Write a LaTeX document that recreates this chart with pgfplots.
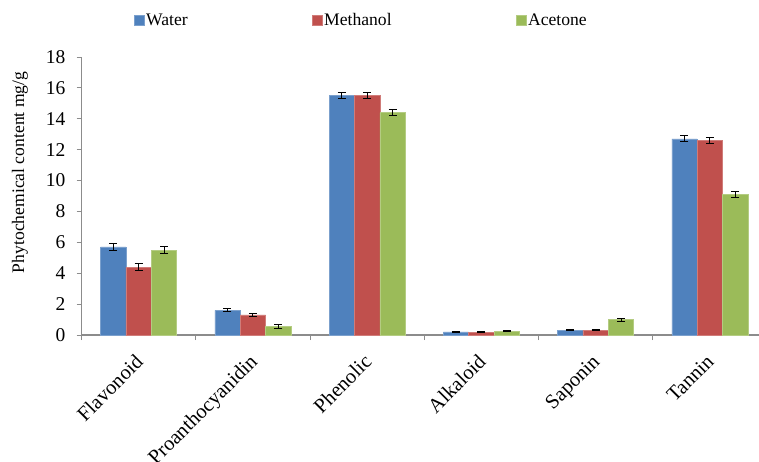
\documentclass[border=0pt]{standalone}
\usepackage{fontspec}
\setmainfont{Liberation Serif}
\usepackage{pgfplots}
\pgfplotsset{compat=1.18}
\definecolor{cW}{HTML}{4F81BD}
\definecolor{cM}{HTML}{C0504D}
\definecolor{cA}{HTML}{9BBB59}
\newcommand\fs{\fontsize{17.6}{21}\selectfont}
\newcommand\fy{\fontsize{19.5}{23}\selectfont}
\newcommand\fx{\fontsize{20.5}{24}\selectfont}
\begin{document}
\begin{tikzpicture}[x=1pt,y=1pt,font=\fs]
\begin{axis}[
  at={(81.5pt,126pt)}, anchor=south west,
  scale only axis, width=685.5pt, height=278pt,
  ybar=0pt, bar width=25.4pt,
  xmin=-0.5, xmax=5.5, ymin=0, ymax=18,
  ytick={0,2,...,18},
  xtick={0,...,5},
  xticklabels={Flavonoid,Proanthocyanidin,Phenolic,Alkaloid,Saponin,Tannin},
  minor xtick={-0.5,0.5,...,5.5},
  axis lines*=left,
  axis line style={draw=gray!90, line width=1.2pt},
  tick align=outside,
  major x tick style={draw=none},
  minor x tick style={draw=gray!90, line width=0.8pt},
  minor tick length=5pt,
  major tick length=5pt,
  y tick style={draw=gray!90, line width=0.8pt},
  /pgf/number format/assume math mode=true,
  yticklabel style={font=\fy, xshift=-7.5pt},
  xticklabel style={font=\fx, xshift=-4.5pt, yshift=-13pt, rotate=45, anchor=north east, inner sep=0pt},
  ylabel={Phytochemical content mg/g},
  every axis y label/.style={at={(rel axis cs:0,0.585)}, xshift=-61.5pt, rotate=90, anchor=center, font=\fs},
  legend columns=3,
  legend style={draw=none, fill=none, at={(rel axis cs:0.408,1.133)}, anchor=center, font=\fs,
    /tikz/every even column/.append style={column sep=122pt},
    nodes={inner sep=2pt}, cells={anchor=west}},
  legend image code/.code={\fill[#1] (0pt,-5pt) rectangle (10pt,5pt);},
  error bars/y dir=both, error bars/y explicit,
  error bars/error bar style={black, line width=1pt},
  error bars/error mark options={rotate=90, mark size=4pt, black, line width=1pt},
]
\addplot[fill=cW, draw=cW!75!white, line width=0.5pt] coordinates {
  (0,5.7) +- (0,0.2)
  (1,1.6) +- (0,0.1)
  (2,15.5) +- (0,0.2)
  (3,0.2) +- (0,0.04)
  (4,0.3) +- (0,0.04)
  (5,12.7) +- (0,0.2)
};
\addplot[fill=cM, draw=cM!75!white, line width=0.5pt] coordinates {
  (0,4.4) +- (0,0.2)
  (1,1.3) +- (0,0.1)
  (2,15.5) +- (0,0.2)
  (3,0.18) +- (0,0.04)
  (4,0.3) +- (0,0.04)
  (5,12.6) +- (0,0.2)
};
\addplot[fill=cA, draw=cA!75!white, line width=0.5pt] coordinates {
  (0,5.5) +- (0,0.2)
  (1,0.55) +- (0,0.1)
  (2,14.4) +- (0,0.2)
  (3,0.25) +- (0,0.04)
  (4,1.0) +- (0,0.1)
  (5,9.1) +- (0,0.2)
};
\legend{Water,Methanol,Acetone}
\end{axis}
\pgfresetboundingbox
\useasboundingbox (0,0) rectangle (759,461);
\end{tikzpicture}
\end{document}
